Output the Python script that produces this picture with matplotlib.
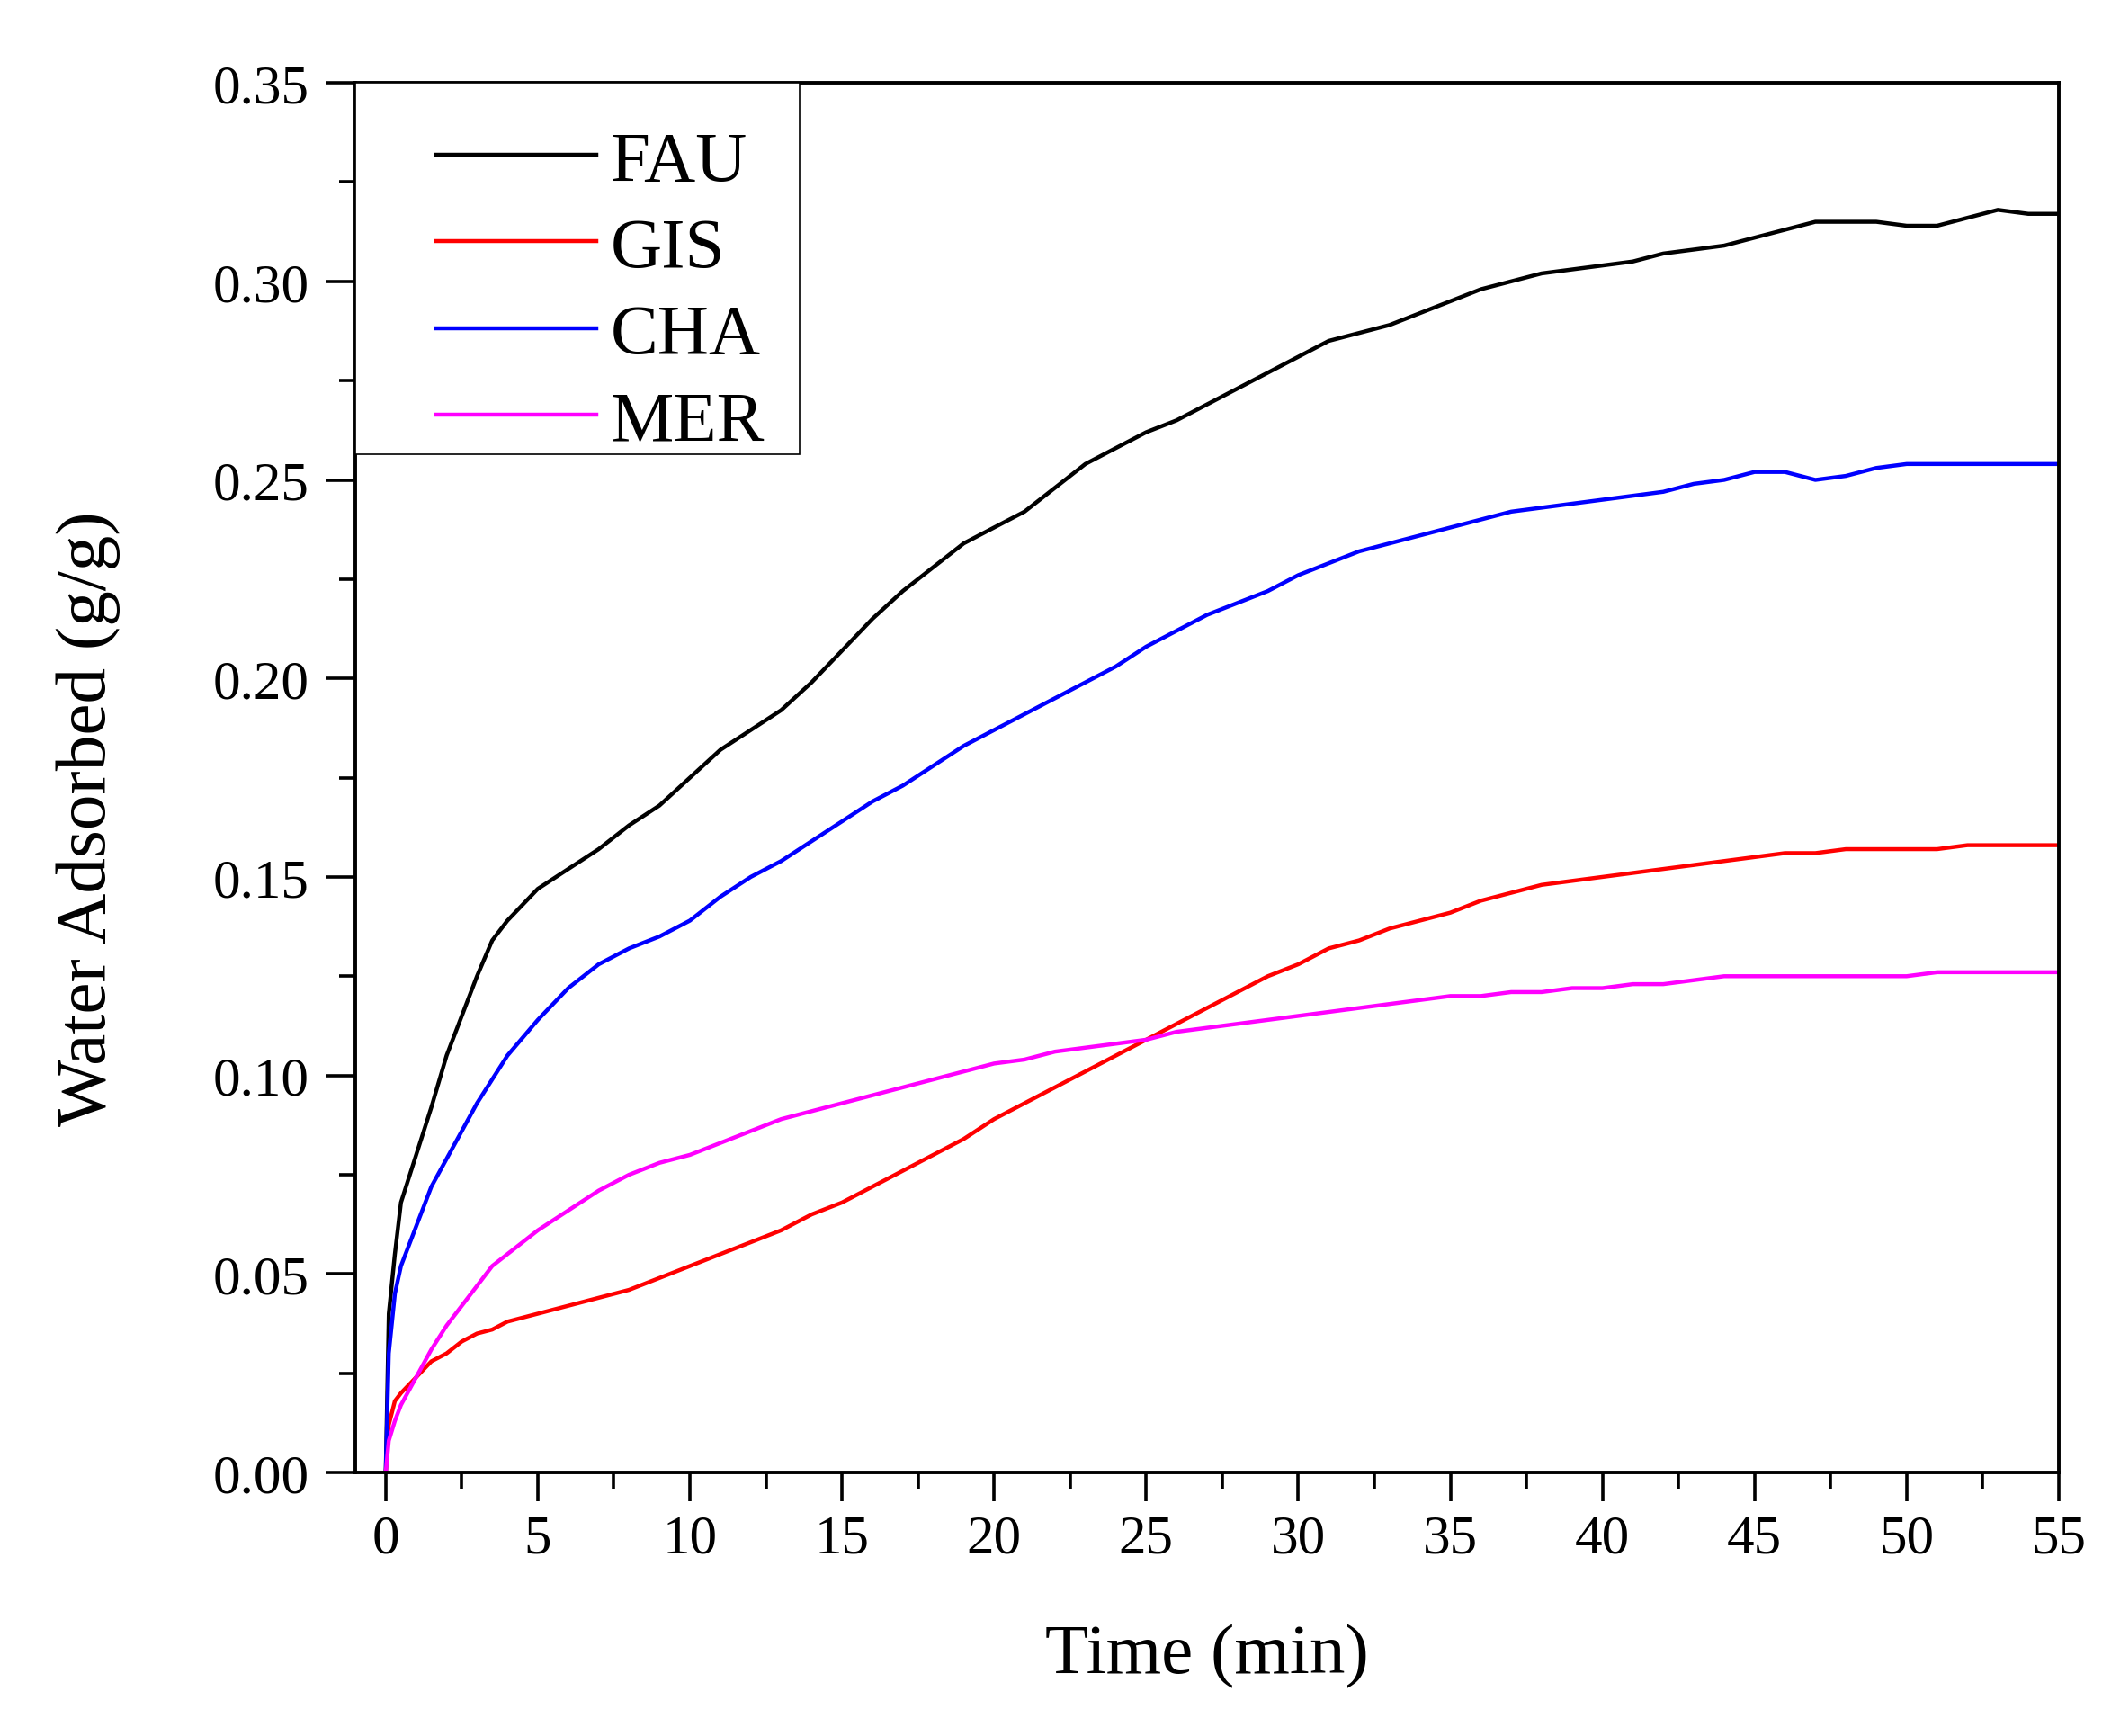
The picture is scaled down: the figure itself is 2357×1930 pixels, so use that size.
import matplotlib
matplotlib.use('Agg')
import matplotlib.pyplot as plt
from matplotlib.patches import Rectangle
from matplotlib.ticker import MultipleLocator, FormatStrFormatter

plt.rcParams['font.family'] = ['Liberation Serif', 'DejaVu Serif']

# time axis (min)
time = [0, 0.1, 0.3, 0.5, 1, 1.5, 2, 2.5, 3, 3.5, 4, 5, 6, 7, 8, 9, 10,
        11, 12, 13, 14, 15, 16, 17, 18, 19, 20, 21, 22, 23, 24, 25, 26, 27,
        28, 29, 30, 31, 32, 33, 34, 35, 36, 37, 38, 39, 40, 41, 42, 43, 44,
        45, 46, 47, 48, 49, 50, 51, 52, 53, 54, 55]

fau = [0, 0.040, 0.055, 0.068, 0.080, 0.092, 0.105, 0.115, 0.125, 0.134, 0.139,
       0.147, 0.152, 0.157, 0.163, 0.168, 0.175, 0.182, 0.187, 0.192, 0.199,
       0.207, 0.215, 0.222, 0.228, 0.234, 0.238, 0.242, 0.248, 0.254, 0.258,
       0.262, 0.265, 0.269, 0.273, 0.277, 0.281, 0.285, 0.287, 0.289, 0.292,
       0.295, 0.298, 0.300, 0.302, 0.303, 0.304, 0.305, 0.307, 0.308, 0.309,
       0.311, 0.313, 0.315, 0.315, 0.315, 0.314, 0.314, 0.316, 0.318, 0.317,
       0.317]

gis = [0, 0.012, 0.018, 0.020, 0.024, 0.028, 0.030, 0.033, 0.035, 0.036, 0.038,
       0.040, 0.042, 0.044, 0.046, 0.049, 0.052, 0.055, 0.058, 0.061, 0.065,
       0.068, 0.072, 0.076, 0.080, 0.084, 0.089, 0.093, 0.097, 0.101, 0.105,
       0.109, 0.113, 0.117, 0.121, 0.125, 0.128, 0.132, 0.134, 0.137, 0.139,
       0.141, 0.144, 0.146, 0.148, 0.149, 0.150, 0.151, 0.152, 0.153, 0.154,
       0.155, 0.156, 0.156, 0.157, 0.157, 0.157, 0.157, 0.158, 0.158, 0.158,
       0.158]

cha = [0, 0.030, 0.045, 0.052, 0.062, 0.072, 0.079, 0.086, 0.093, 0.099, 0.105,
       0.114, 0.122, 0.128, 0.132, 0.135, 0.139, 0.145, 0.150, 0.154, 0.159,
       0.164, 0.169, 0.173, 0.178, 0.183, 0.187, 0.191, 0.195, 0.199, 0.203,
       0.208, 0.212, 0.216, 0.219, 0.222, 0.226, 0.229, 0.232, 0.234, 0.236,
       0.238, 0.240, 0.242, 0.243, 0.244, 0.245, 0.246, 0.247, 0.249, 0.250,
       0.252, 0.252, 0.250, 0.251, 0.253, 0.254, 0.254, 0.254, 0.254, 0.254,
       0.254]

mer = [0, 0.008, 0.013, 0.017, 0.024, 0.031, 0.037, 0.042, 0.047, 0.052, 0.055,
       0.061, 0.066, 0.071, 0.075, 0.078, 0.080, 0.083, 0.086, 0.089, 0.091,
       0.093, 0.095, 0.097, 0.099, 0.101, 0.103, 0.104, 0.106, 0.107, 0.108,
       0.109, 0.111, 0.112, 0.113, 0.114, 0.115, 0.116, 0.117, 0.118, 0.119,
       0.120, 0.120, 0.121, 0.121, 0.122, 0.122, 0.123, 0.123, 0.124, 0.125,
       0.125, 0.125, 0.125, 0.125, 0.125, 0.125, 0.126, 0.126, 0.126, 0.126,
       0.126]

labels = ['FAU', 'GIS', 'CHA', 'MER']
colors = ['black', '#ff0000', '#0000ff', '#ff00ff']

fig = plt.figure(figsize=(23.57, 19.31), dpi=100)
ax = fig.add_axes([0.1676, 0.1517, 0.8035, 0.8001])

for y, lab, c in zip([fau, gis, cha, mer], labels, colors):
    ax.plot(time, y, color=c, lw=3.2, label=lab)

ax.set_xlim(-1, 55)
ax.set_ylim(0, 0.35)
ax.xaxis.set_major_locator(MultipleLocator(5))
ax.xaxis.set_minor_locator(MultipleLocator(2.5))
ax.yaxis.set_major_locator(MultipleLocator(0.05))
ax.yaxis.set_minor_locator(MultipleLocator(0.025))
ax.yaxis.set_major_formatter(FormatStrFormatter('%.2f'))

for s in ax.spines.values():
    s.set_linewidth(2.8)
ax.tick_params(which='major', direction='out', length=23, width=2.6,
               labelsize=44, top=False, right=False)
ax.tick_params(which='minor', direction='out', length=13, width=2.6,
               top=False, right=False)
ax.tick_params(axis='x', which='major', pad=10)
ax.tick_params(axis='y', which='major', pad=14)

ax.set_xlabel('Time (min)', fontsize=57, labelpad=48)
ax.set_ylabel('Water Adsorbed (g/g)', fontsize=57)
ax.yaxis.set_label_coords(-0.138, 0.471)

# legend box (Origin style: square box in the top-left corner)
ax.add_patch(Rectangle((0, 0.733), 0.261, 0.267, transform=ax.transAxes,
                       facecolor='white', edgecolor='black', lw=1.2,
                       zorder=4, clip_on=False))
leg = ax.legend(loc='upper left', bbox_to_anchor=(0.0476, 0.966),
                fontsize=57, frameon=False, borderaxespad=0, borderpad=0,
                handlelength=2.24, handletextpad=0.2, labelspacing=0.3)
leg.set_zorder(5)

fig.savefig('out.png', dpi=100)
